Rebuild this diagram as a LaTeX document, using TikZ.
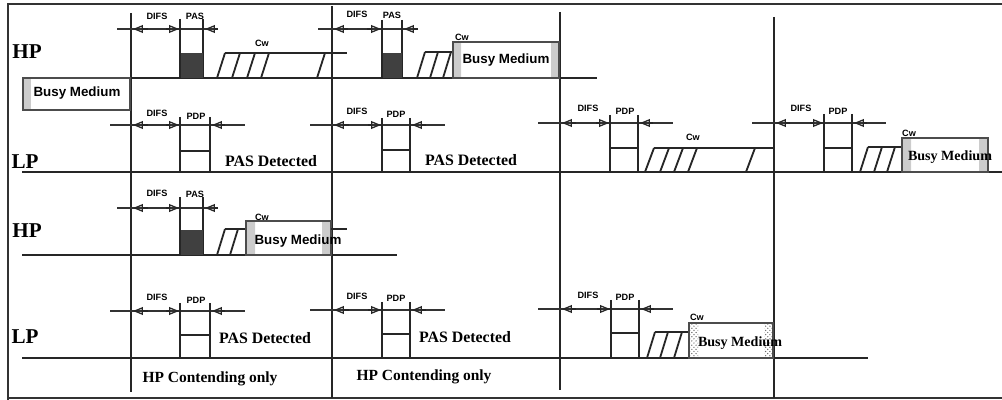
\documentclass[tikz,border=0pt]{standalone}
\usepackage{fontspec}
\setmainfont{Liberation Serif}
\setsansfont{Liberation Sans}
\usetikzlibrary{arrows.meta,patterns}

\begin{document}
\begin{tikzpicture}[x=0.025cm,y=-0.025cm,
  frame/.style={black!80,line width=1.4pt},
  divider/.style={black!85,line width=0.9pt},
  timeline/.style={black!85,line width=1.4pt},
  tick/.style={black!85,line width=0.8pt},
  dimline/.style={black!80,line width=0.9pt},
  dimtip/.style={black!85,line width=0.9pt,-{Triangle[open,length=7pt,width=5.5pt]}},
  slash/.style={black!85,line width=1.3pt},
  pasfill/.style={fill=black!75},
  busybox/.style={draw=black!70,line width=1.6pt},
  shade/.style={fill=black!20},
  dotshade/.style={pattern=crosshatch dots,pattern color=black!60},
  prio/.style={font=\bfseries\fontsize{15}{15}\selectfont},
  small/.style={font=\sffamily\bfseries\fontsize{6.5}{6.5}\selectfont},
  note/.style={font=\bfseries\fontsize{11.3}{11.3}\selectfont},
  busysans/.style={font=\sffamily\bfseries\fontsize{9.5}{9.5}\selectfont},
  busyserif/.style={font=\bfseries\fontsize{10}{10}\selectfont}]
\useasboundingbox (0,0) rectangle (1002,400);

% Frame
\draw[frame] (1002,4) -- (8,4) -- (8,400);
\draw[frame] (8,398) -- (1002,398);

% Dividers
\draw[divider] (131,13) -- (131,392);
\draw[divider] (332,6) -- (332,398);
\draw[divider] (560,12) -- (560,390);
\draw[divider] (774,17) -- (774,398);

% Priority labels
\node[prio] (hp1) at (27,52) {HP};
\node[prio] (lp1) at (25,162) {LP};
\node[prio] (hp2) at (27,231) {HP};
\node[prio] (lp2) at (25,337) {LP};

% Time lines
\draw[timeline] (131,78) -- (597,78);
\draw[timeline] (22,172) -- (1002,172);
\draw[timeline] (22,255) -- (397,255);
\draw[timeline] (22,358) -- (868,358);

%Busy Medium, row 1
\fill[shade] (24,79) rectangle (31,109);
\draw[busybox] (23,78) rectangle (130,110);
\node[busysans] (busy0) at (77,93) {Busy Medium};

%HP, row 1, cell 1 %DIFS,PAS
\draw[dimline] (117,29) -- (218,29);
\path (148,29) edge[dimtip] (133,29) (166,29) edge[dimtip] (179,29) (218,29) edge[dimtip] (205,29);
\draw[tick] (180,19) -- (180,78) (203,19) -- (203,78);
\fill[pasfill] (181,53) rectangle (203,78);
\node[small] (difs1) at (157,16) {DIFS};
\node[small] (pas1) at (195,16) {PAS};
%Cw
\foreach \s in {217,232,247,261,317} \draw[slash] (\s,78) -- (\s+8,53);
\draw[timeline] (225,53) -- (347,53);
\node[small] (cw1) at (262,43) {Cw};

%HP, row 1, cell 2 %DIFS,PAS
\draw[dimline] (318,29) -- (418,29);
\path (348,29) edge[dimtip] (334,29) (367,29) edge[dimtip] (381,29) (418,29) edge[dimtip] (404,29);
\draw[tick] (382,20) -- (382,78) (402,20) -- (402,78);
\fill[pasfill] (383,53) rectangle (402,78);
\node[small] (difs2) at (357,14) {DIFS};
\node[small] (pas2) at (392,15) {PAS};
%Cw %Busy Medium
\foreach \s in {417,430,443} \draw[slash] (\s,78) -- (\s+8,52);
\draw[timeline] (425,52) -- (453,52);
\fill[shade] (454,43) rectangle (461,77) (551,43) rectangle (558,77);
\draw[busybox] (453,42) rectangle (559,78);
\node[small] (cw2) at (462,37) {Cw};
\node[busysans] (busy1) at (506,60) {Busy Medium};

%LP, row 2, cell 1 %DIFS,PDP
\draw[dimline] (110,125) -- (245,125);
\path (148,125) edge[dimtip] (133,125) (166,125) edge[dimtip] (179,125) (225,125) edge[dimtip] (212,125);
\draw[tick] (180,117) -- (180,172) (210,117) -- (210,172) (180,151) -- (210,151);
\node[small] (difs3) at (157,113) {DIFS};
\node[small] (pdp3) at (196,116) {PDP};
\node[note] (det1) at (271,161) {PAS Detected};

%LP, row 2, cell 2 %DIFS,PDP
\draw[dimline] (310,125) -- (445,125);
\path (349,125) edge[dimtip] (334,125) (368,125) edge[dimtip] (381,125) (426,125) edge[dimtip] (412,125);
\draw[tick] (382,118) -- (382,172) (410,118) -- (410,172) (382,150) -- (410,150);
\node[small] (difs4) at (357,111) {DIFS};
\node[small] (pdp4) at (396,114) {PDP};
\node[note] (det2) at (471,160) {PAS Detected};

%LP, row 2, cell 3 %DIFS,PDP
\draw[dimline] (538,123) -- (673,123);
\path (576,123) edge[dimtip] (562,123) (596,123) edge[dimtip] (609,123) (653,123) edge[dimtip] (640,123);
\draw[tick] (610,115) -- (610,172) (638,115) -- (638,172) (610,148) -- (638,148);
\node[small] (difs5) at (588,108) {DIFS};
\node[small] (pdp5) at (625,111) {PDP};
%Cw
\foreach \s in {645,660,674,688,746} \draw[slash] (\s,172) -- (\s+9,148);
\draw[timeline] (654,148) -- (774,148);
\node[small] (cw5) at (693,137) {Cw};

%LP, row 2, cell 4 %DIFS,PDP
\draw[dimline] (752,123) -- (886,123);
\path (790,123) edge[dimtip] (776,123) (810,123) edge[dimtip] (823,123) (867,123) edge[dimtip] (854,123);
\draw[tick] (824,114) -- (824,172) (852,114) -- (852,172) (824,148) -- (852,148);
\node[small] (difs6) at (801,108) {DIFS};
\node[small] (pdp6) at (838,111) {PDP};
%Cw %Busy Medium
\foreach \s in {860,874,887} \draw[slash] (\s,172) -- (\s+8,147);
\draw[timeline] (868,147) -- (902,147);
\fill[shade] (903,139) rectangle (911,171) (979,139) rectangle (987,171);
\draw[busybox] (902,138) rectangle (988,172);
\node[small] (cw6) at (909,133) {Cw};
\node[busyserif] (busy2) at (950,157) {Busy Medium};

%HP, row 3, cell 1 %DIFS,PAS
\draw[dimline] (117,208) -- (218,208);
\path (148,208) edge[dimtip] (133,208) (166,208) edge[dimtip] (179,208) (218,208) edge[dimtip] (205,208);
\draw[tick] (180,197) -- (180,255) (203,197) -- (203,255);
\fill[pasfill] (181,230) rectangle (203,255);
\node[small] (difs7) at (157,193) {DIFS};
\node[small] (pas7) at (195,194) {PAS};
%Cw %Busy Medium
\foreach \s in {217,230} \draw[slash] (\s,255) -- (\s+8,229);
\draw[timeline] (225,229) -- (246,229);
\fill[shade] (247,222) rectangle (255,254) (322,222) rectangle (330,254);
\draw[busybox] (246,221) rectangle (331,255);
\draw[timeline] (331,229) -- (347,229);
\node[small] (cw7) at (262,217) {Cw};
\node[busysans] (busy3) at (298,241) {Busy Medium};

%LP, row 4, cell 1 %DIFS,PDP
\draw[dimline] (110,311) -- (245,311);
\path (148,311) edge[dimtip] (133,311) (166,311) edge[dimtip] (179,311) (225,311) edge[dimtip] (212,311);
\draw[tick] (180,303) -- (180,358) (210,303) -- (210,358) (180,335) -- (210,335);
\node[small] (difs8) at (157,297) {DIFS};
\node[small] (pdp8) at (196,300) {PDP};
\node[note] (det3) at (265,338) {PAS Detected};

%LP, row 4, cell 2 %DIFS,PDP
\draw[dimline] (310,310) -- (445,310);
\path (349,310) edge[dimtip] (334,310) (368,310) edge[dimtip] (381,310) (426,310) edge[dimtip] (412,310);
\draw[tick] (382,302) -- (382,358) (410,302) -- (410,358) (382,334) -- (410,334);
\node[small] (difs9) at (357,296) {DIFS};
\node[small] (pdp9) at (396,298) {PDP};
\node[note] (det4) at (465,337) {PAS Detected};

%LP, row 4, cell 3 %DIFS,PDP
\draw[dimline] (538,309) -- (673,309);
\path (576,309) edge[dimtip] (562,309) (597,309) edge[dimtip] (610,309) (654,309) edge[dimtip] (641,309);
\draw[tick] (611,300) -- (611,358) (639,300) -- (639,358) (611,333) -- (639,333);
\node[small] (difs10) at (588,295) {DIFS};
\node[small] (pdp10) at (625,297) {PDP};
%Cw %Busy Medium
\foreach \s in {647,660,674} \draw[slash] (\s,358) -- (\s+8,332);
\draw[timeline] (655,332) -- (689,332);
\fill[dotshade] (690,324) rectangle (698,357) (764,324) rectangle (772,357);
\draw[busybox] (689,323) rectangle (773,358);
\node[small] (cw10) at (697,317) {Cw};
\node[busyserif] (busy4) at (740,343) {Busy Medium};

% Footnotes
\node[note,font=\bfseries\fontsize{11}{11}\selectfont] (hpc1) at (210,379) {HP Contending only};
\node[note,font=\bfseries\fontsize{11}{11}\selectfont] (hpc2) at (424,377) {HP Contending only};

\end{tikzpicture}
\end{document}
